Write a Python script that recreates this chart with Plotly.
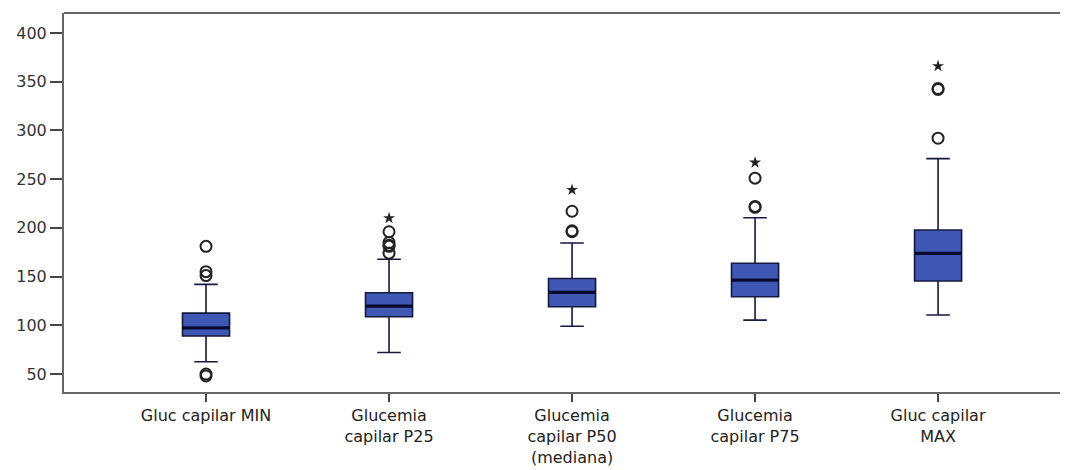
import plotly.graph_objects as go

categories = ["Gluc capilar MIN", "Glucemia<br>capilar P25", "Glucemia<br>capilar P50<br>(mediana)",
              "Glucemia<br>capilar P75", "Gluc capilar<br>MAX"]
q1 = [89, 108.7, 119, 129.3, 145.4]
median = [97.4, 119.7, 133.8, 146.4, 173.8]
q3 = [112.5, 133.4, 148, 163.6, 197.7]
lowerfence = [62.5, 72, 99, 105.3, 110.5]
upperfence = [142, 167.7, 184.4, 210.4, 271]
outliers_circle = [[181, 155, 151, 50, 48],
                   [196, 185, 182, 181, 174],
                   [217, 197, 196],
                   [251, 222, 221],
                   [343, 342, 292]]
outliers_star = [[], [210], [239], [267], [366]]
yticks = [50, 100, 150, 200, 250, 300, 350, 400]

positions = list(range(len(categories)))
box_w = 0.257

fig = go.Figure()
fig.add_trace(go.Box(
    x=positions, q1=q1, median=median, q3=q3,
    lowerfence=lowerfence, upperfence=upperfence,
    width=box_w, whiskerwidth=0.5,
    fillcolor="#3f58b4", line=dict(color="#15183f", width=1.6),
    boxpoints=False, showlegend=False, hoverinfo="skip",
))

# thick median lines
for i, m in zip(positions, median):
    fig.add_trace(go.Scatter(
        x=[i - box_w / 2, i + box_w / 2], y=[m, m], mode="lines",
        line=dict(color="#0a0a30", width=3.2), showlegend=False, hoverinfo="skip"))

cx, cy, sx, sy = [], [], [], []
for i in positions:
    for v in outliers_circle[i]:
        cx.append(i); cy.append(v)
    for v in outliers_star[i]:
        sx.append(i); sy.append(v)

fig.add_trace(go.Scatter(
    x=cx, y=cy, mode="markers",
    marker=dict(symbol="circle-open", size=11, color="#222222", line=dict(width=2, color="#222222")),
    showlegend=False, hoverinfo="skip"))
fig.add_trace(go.Scatter(
    x=sx, y=sy, mode="markers",
    marker=dict(symbol="star", size=9, color="#222222"),
    showlegend=False, hoverinfo="skip"))

fig.update_layout(
    width=1060, height=462,
    margin=dict(l=56, r=0, t=5, b=78),
    paper_bgcolor="white", plot_bgcolor="white",
    font=dict(family="DejaVu Sans, Liberation Sans, sans-serif", color="#222222"),
    shapes=[dict(type="line", xref="paper", yref="paper", x0=0, x1=1, y0=1, y1=1,
                 line=dict(color="#666666", width=2))],
)
fig.update_xaxes(
    range=[-0.776, 4.71], tickvals=positions, ticktext=categories,
    showgrid=False, zeroline=False,
    showline=True, linecolor="#666666", linewidth=2, mirror=False,
    ticks="outside", ticklen=8, tickwidth=2, tickcolor="#444444",
    tickfont=dict(size=16, color="#222222"),
)
fig.update_yaxes(
    range=[31.5, 420.5], tickvals=yticks, ticktext=[str(v) for v in yticks],
    showgrid=False, zeroline=False,
    showline=True, linecolor="#666666", linewidth=2,
    ticks="outside", ticklen=12, tickwidth=2, tickcolor="#444444",
    tickfont=dict(size=16, color="#333333"),
)

fig.write_html("out.html")
